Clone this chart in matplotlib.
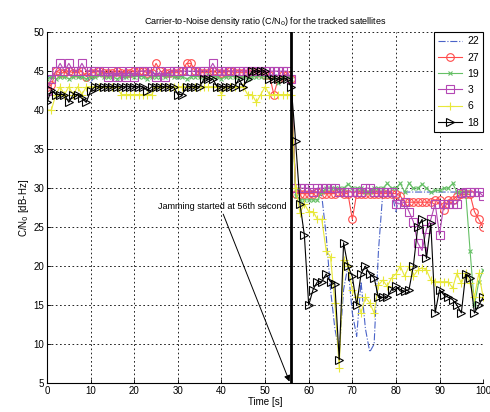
# cn0_jamming.py
# Carrier-to-noise density of the tracked satellites before and after jamming.

import numpy as np
import matplotlib
matplotlib.use("Agg")
import matplotlib.pyplot as plt

time_s = np.arange(0, 101)

prn_labels = ["22", "27", "19", "3", "6", "18"]

cn0_22 = [44.5, 44, 44.5, 44.5, 45, 44.5, 44.5, 44.5, 44, 44.5,
          43.5, 44.5, 44.5, 45, 44.5, 44.5, 44.5, 44.5, 44, 44.5,
          44.5, 44.5, 44.5, 44.5, 45, 44.5, 44.5, 44.5, 44.5, 44.5,
          44, 44.5, 44.5, 44.5, 44.5, 44.5, 44, 44.5, 44.5, 44.5,
          44.5, 44.5, 44.5, 44.5, 44.5, 44, 44.5, 44.5, 44.5, 44.5,
          44.5, 44.5, 44.5, 44.5, 44.5, 44.5, 43, 30, 29.5, 29.5,
          29.5, 29.5, 29.5, 29, 24, 17, 12, 9, 17, 20,
          14, 11, 18, 12, 9, 10, 22, 29.5, 29.5, 29.5,
          27, 29.5, 29.5, 29.5, 29.5, 29.5, 29.5, 29.5, 29.5, 29.5,
          29.5, 29.5, 29.5, 29.5, 29.5, 29.5, 29.5, 29.5, 29.5, 29.5,
          29.5]

cn0_27 = [43, 43.2, 45, 44.8, 44.8, 45, 44.8, 44.8, 45, 44.3,
          44.8, 44.8, 45, 44.8, 44.8, 44.8, 45, 44.8, 44.8, 44.8,
          45, 45, 45, 44.8, 44.8, 46, 45, 44.8, 44.8, 44.8,
          44.8, 45, 46, 46, 45, 44.8, 44.8, 44.8, 45, 44.8,
          44.8, 44.8, 45, 44.8, 44.8, 44.8, 44.8, 45, 44.8, 44.8,
          44.5, 44.5, 42, 44, 44.5, 44.5, 44, 29.3, 29.3, 29.3,
          29.3, 29.3, 29.5, 29.3, 29.3, 29.3, 29.3, 29.5, 29.3, 29.3,
          26, 29.3, 29.3, 29.3, 29.3, 29.3, 29.3, 29.3, 29.3, 29.3,
          29.3, 29, 28.2, 28.2, 28.2, 28.2, 28.2, 28.2, 28.2, 28.5,
          28.5, 27.2, 28.5, 28.5, 29, 29.2, 29.2, 29.2, 27, 26,
          25]

cn0_19 = [44, 44.3, 44, 44.3, 44.3, 44, 44.3, 44.3, 44.3, 44,
          44.3, 44.3, 44.5, 44.3, 44.3, 44.3, 44, 44.3, 44.3, 44.5,
          44.3, 44.3, 44.3, 44, 44.3, 44.3, 44.3, 44.3, 44.5, 44.3,
          44.3, 44.3, 44, 44.3, 44.3, 44.3, 44.3, 44.5, 44.3, 44.3,
          44, 44.3, 44.3, 44.3, 44.3, 44.3, 44, 44.3, 44.3, 44.3,
          44.3, 44.3, 44.3, 43.5, 44.3, 44.3, 44, 29, 28.5, 28.5,
          28.5, 28.5, 28.5, 29.5, 30, 30, 30, 30, 30, 30.5,
          30, 30, 30, 29.5, 29.5, 30, 30, 30, 30.6, 30,
          30, 30.6, 29.5, 30.6, 30, 30, 30.5, 30, 29.5, 29.7,
          29.7, 30, 30, 30.6, 29.5, 29.5, 29.5, 22, 15, 18,
          19.5]

cn0_3 = [42.5, 44, 45, 46, 45, 46, 45, 45, 46, 45,
         45, 45, 45, 45, 44.3, 45, 44.3, 45, 44.3, 45,
         44.3, 45, 45, 45, 45, 44.3, 45, 44.3, 45, 45,
         45, 45, 45, 45, 45, 45, 45, 45, 46, 45,
         45, 45, 45, 45, 45, 45, 45, 45, 45, 45,
         45, 45, 45, 45, 45, 45, 44, 30, 30, 30,
         30, 29.5, 30, 30, 30, 30, 30, 29.5, 29.5, 29.5,
         29.5, 29.5, 29.5, 30, 30, 29.5, 29.5, 29.5, 29.5, 29.5,
         28, 28, 28.2, 27, 25.7, 23, 22, 24.7, 26, 28,
         24, 28, 28, 28, 28, 29.4, 29.5, 29.5, 29.5, 29.5,
         29]

cn0_6 = [40, 40, 42, 43, 42, 43, 42, 43, 42, 43,
         43, 43, 43, 43, 43, 43, 43, 42, 42, 42,
         42, 42, 42, 42, 42, 43, 43, 43, 43, 43,
         43, 43, 43, 43, 43, 43, 43, 43, 43, 43,
         42, 43, 43, 43, 43, 43, 42, 42, 41, 42,
         43, 42, 42, 42, 42, 42, 42, 30, 26.8, 28,
         27, 27, 26, 26, 22, 21.2, 15.3, 7, 20.8, 20,
         17, 16, 14, 16, 15.3, 14, 17.6, 18.2, 17.4, 18.5,
         19, 20, 18.7, 20, 18.7, 19.5, 19.8, 19.5, 18.2, 18,
         18, 18, 18, 17.2, 19.1, 17.8, 19.1, 17.8, 16, 19.1,
         16]

cn0_18 = [41, 42.6, 42, 42, 42, 41, 42, 42, 41.5, 41,
          42.5, 43, 43, 43, 43, 43, 43, 43, 43, 43,
          43, 43, 43, 42.5, 43, 43, 43, 43, 43, 43,
          42, 42, 43, 43, 43, 43, 44, 44, 44, 43,
          43, 43, 43, 43, 44, 43, 44, 45, 45, 45,
          45, 44, 44, 44, 44, 44, 43, 36, 28, 24,
          15, 17, 18, 18, 19, 18, 17.7, 8, 23, 20,
          18.7, 15, 19, 20, 19, 18.5, 16, 16, 16, 17,
          17.4, 16.8, 16.8, 17, 20, 25, 26, 21, 25.5, 14,
          17, 16.3, 16, 15.7, 15, 14, 19, 18.5, 14, 15,
          16]

jam_start = 56

# line style, marker, size, colour for each satellite
styles = [
    ("-.", "None", 0, "#4a63c8"),
    ("-", "o", 5.5, "#ff4a4a"),
    ("-", "x", 3, "#66c066"),
    ("-", "s", 6, "#b447b4"),
    ("-", "+", 6, "#e8e83a"),
    ("-", ">", 6, "#000000"),
]

plt.rcParams["font.family"] = ["Liberation Sans", "DejaVu Sans"]
plt.rcParams["font.size"] = 7

fig = plt.figure(figsize=(4.9, 4.12), dpi=100)
ax = fig.add_axes([0.096, 0.070, 0.890, 0.852])

all_series = [cn0_22, cn0_27, cn0_19, cn0_3, cn0_6, cn0_18]
for label, values, (ls, mk, ms, col) in zip(prn_labels, all_series, styles):
    ax.plot(time_s, values, linestyle=ls, marker=mk, markersize=ms,
            color=col, markerfacecolor="none", markeredgecolor=col,
            linewidth=0.8, markeredgewidth=0.8, label=label)

ax.axvline(jam_start, color="black", linewidth=2.0, zorder=5)

ax.annotate("Jamming started at 56th second", xy=(55.6, 5.2), xytext=(25.4, 27.6),
            fontsize=6.5, va="center", ha="left",
            arrowprops=dict(arrowstyle="-|>", color="black", lw=0.7,
                            shrinkA=0, shrinkB=0, mutation_scale=9,
                            relpos=(0.5, 0.0)))

ax.set_xlim(0, 100)
ax.set_ylim(5, 50)
ax.set_xticks(np.arange(0, 101, 10))
ax.set_yticks(np.arange(5, 51, 5))
ax.tick_params(direction="in", length=3, width=0.6, pad=2, labelsize=7)
ax.grid(True, color="black", linestyle=(0, (2, 3)), linewidth=0.6)
ax.spines["top"].set_visible(False)
ax.spines["right"].set_visible(False)

ax.set_title("Carrier-to-Noise density ratio (C/N$_0$) for the tracked satellites",
             fontsize=6.5, pad=6)
ax.set_xlabel("Time [s]", labelpad=1, fontsize=7)
ax.set_ylabel("C/N$_0$ [dB-Hz]", labelpad=2, fontsize=7)

leg = ax.legend(loc="upper right", borderaxespad=0, fancybox=False,
                framealpha=1, edgecolor="black", handlelength=2.3,
                labelspacing=0.6, fontsize=7.5, handletextpad=0.5)
leg.get_frame().set_linewidth(0.8)

fig.savefig("out.png", dpi=100)
